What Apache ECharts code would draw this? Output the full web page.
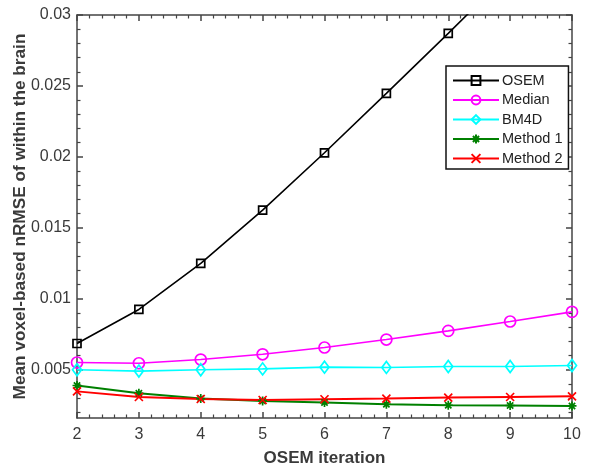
<!DOCTYPE html>
<html>
<head>
<meta charset="utf-8">
<script src="https://cdn.jsdelivr.net/npm/echarts@6/dist/echarts.min.js"></script>
<style>
  html, body { margin: 0; padding: 0; background: #fff; }
  #chart { width: 600px; height: 471px; }
</style>
</head>
<body>
<div id="chart"></div>
<script>
// OSEM iterations on the x axis
const iterations = [2, 3, 4, 5, 6, 7, 8, 9, 10];

// Mean voxel-based nRMSE within the brain, per method
const osem    = [0.00685, 0.00925, 0.01249, 0.01625, 0.02029, 0.02448, 0.02871, 0.0330, 0.0374];
const median  = [0.00551, 0.00546, 0.00572, 0.00609, 0.00657, 0.00713, 0.00774, 0.00840, 0.00908];
const bm4d    = [0.00500, 0.00491, 0.00500, 0.00506, 0.00518, 0.00516, 0.00523, 0.00523, 0.00530];
const method1 = [0.00389, 0.00334, 0.00297, 0.00280, 0.00269, 0.00257, 0.00250, 0.00248, 0.00245];
const method2 = [0.00348, 0.00308, 0.00294, 0.00287, 0.00292, 0.00297, 0.00304, 0.00308, 0.00313];

// Axis ranges and tick values
const xMin = 2, xMax = 10;
const yMin = 0.0016, yMax = 0.03;
const yMajorTicks = [0.005, 0.01, 0.015, 0.02, 0.025, 0.03];
const yMinorTicks = [0.002, 0.003, 0.004, 0.006, 0.007, 0.008, 0.009, 0.011, 0.012, 0.013, 0.014,
                     0.016, 0.017, 0.018, 0.019, 0.021, 0.022, 0.023, 0.024, 0.026, 0.027, 0.028, 0.029];

const FONT = '"Liberation Sans", Arial, Helvetica, sans-serif';
const AXIS_COLOR = '#444';
const TEXT_COLOR = '#3a3a3a';

const pairs = vals => iterations.map((x, i) => [x, vals[i]]);

// Stroke-only marker shapes
const STAR_PATH = 'path://M5,0L5,10M0,5L10,5M1.5,1.5L8.5,8.5M8.5,1.5L1.5,8.5';
const CROSS_PATH = 'path://M0,0L10,10M10,0L0,10';

function makeSeries(name, vals, color, symbol, size, width) {
  return {
    name: name,
    type: 'line',
    data: pairs(vals),
    xAxisIndex: 0,
    yAxisIndex: 0,
    symbol: symbol,
    symbolSize: size,
    showAllSymbol: true,
    clip: true,
    lineStyle: { color: color, width: width },
    itemStyle: { color: 'transparent', borderColor: color, borderWidth: 1.7 },
    emphasis: { disabled: true },
    z: 3
  };
}

const baseAxisLine = { show: true, onZero: false, lineStyle: { color: AXIS_COLOR, width: 1.5 } };

const chart = echarts.init(document.getElementById('chart'), null, { renderer: 'canvas' });

chart.setOption({
  animation: false,
  backgroundColor: '#fff',
  grid: { left: 77, right: 28, top: 15, bottom: 53, containLabel: false, outerBoundsMode: 'none' },
  legend: {
    orient: 'vertical',
    left: 446,
    top: 66,
    padding: [7, 6, 3, 6],
    itemWidth: 46,
    itemHeight: 11,
    itemGap: 4.5,
    backgroundColor: '#fff',
    borderColor: '#111',
    borderWidth: 1.5,
    borderRadius: 0,
    textStyle: { fontFamily: FONT, fontSize: 14.5, color: '#222', padding: [0, 0, 0, -2] },
    data: ['OSEM', 'Median', 'BM4D', 'Method 1', 'Method 2']
  },
  xAxis: [
    {
      type: 'value', position: 'bottom', min: xMin, max: xMax, interval: 1,
      name: 'OSEM iteration', nameLocation: 'middle', nameGap: 32, nameMoveOverlap: false,
      nameTextStyle: { fontFamily: FONT, fontSize: 17, fontWeight: 'bold', color: TEXT_COLOR },
      axisLine: baseAxisLine,
      axisTick: { show: true, inside: true, length: 6, lineStyle: { color: AXIS_COLOR, width: 1.5 } },
      minorTick: { show: true, splitNumber: 5, length: 3.5, lineStyle: { color: AXIS_COLOR, width: 1.2 } },
      axisLabel: { fontFamily: FONT, fontSize: 16, color: TEXT_COLOR, margin: 9 },
      splitLine: { show: false }
    },
    {
      type: 'value', position: 'top', min: xMin, max: xMax, interval: 1,
      axisLine: baseAxisLine,
      axisTick: { show: true, inside: true, length: 6, lineStyle: { color: AXIS_COLOR, width: 1.5 } },
      minorTick: { show: true, splitNumber: 5, length: 3.5, lineStyle: { color: AXIS_COLOR, width: 1.2 } },
      axisLabel: { show: false },
      splitLine: { show: false }
    }
  ],
  yAxis: [
    {
      type: 'value', position: 'left', min: yMin, max: yMax,
      name: 'Mean voxel-based nRMSE of within the brain', nameLocation: 'middle', nameGap: 48,
      nameMoveOverlap: false,
      nameTextStyle: { fontFamily: FONT, fontSize: 17.2, fontWeight: 'bold', color: TEXT_COLOR },
      axisLine: baseAxisLine,
      axisTick: { show: true, inside: true, length: 6, customValues: yMajorTicks,
                  lineStyle: { color: AXIS_COLOR, width: 1.5 } },
      axisLabel: { fontFamily: FONT, fontSize: 16, color: TEXT_COLOR, margin: 6,
                   customValues: yMajorTicks, formatter: v => String(+v.toFixed(4)) },
      splitLine: { show: false }
    },
    {
      type: 'value', position: 'left', min: yMin, max: yMax,
      axisLine: { show: false },
      axisTick: { show: true, inside: true, length: 3.5, customValues: yMinorTicks,
                  lineStyle: { color: AXIS_COLOR, width: 1.2 } },
      axisLabel: { show: false },
      splitLine: { show: false }
    },
    {
      type: 'value', position: 'right', min: yMin, max: yMax,
      axisLine: baseAxisLine,
      axisTick: { show: true, inside: true, length: 6, customValues: yMajorTicks,
                  lineStyle: { color: AXIS_COLOR, width: 1.5 } },
      axisLabel: { show: false },
      splitLine: { show: false }
    },
    {
      type: 'value', position: 'right', min: yMin, max: yMax,
      axisLine: { show: false },
      axisTick: { show: true, inside: true, length: 3.5, customValues: yMinorTicks,
                  lineStyle: { color: AXIS_COLOR, width: 1.2 } },
      axisLabel: { show: false },
      splitLine: { show: false }
    }
  ],
  series: [
    makeSeries('OSEM', osem, '#000000', 'rect', 8, 1.6),
    makeSeries('Median', median, '#ff00ff', 'circle', 11, 1.6),
    makeSeries('BM4D', bm4d, '#00ffff', 'diamond', [9, 12], 1.7),
    makeSeries('Method 1', method1, '#008000', STAR_PATH, 9, 1.9),
    makeSeries('Method 2', method2, '#ff0000', CROSS_PATH, 8, 1.9)
  ]
});
</script>
</body>
</html>
